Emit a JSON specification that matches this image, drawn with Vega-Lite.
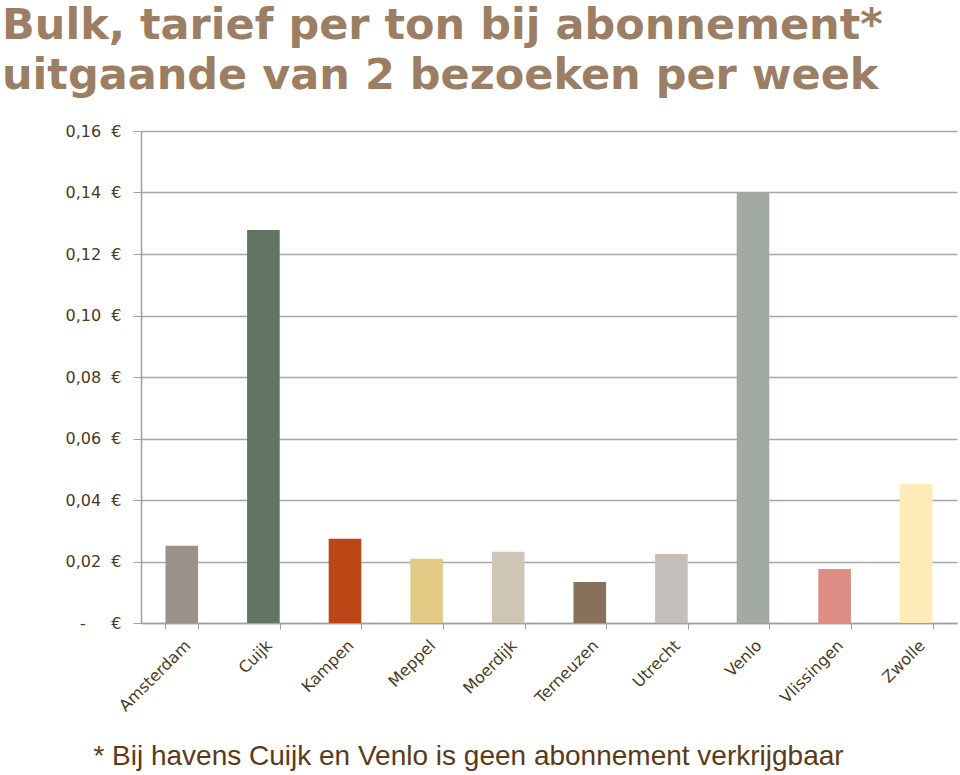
{
  "$schema": "https://vega.github.io/schema/vega-lite/v6.json",
  "width": 816,
  "height": 492,
  "autosize": {"type": "none"},
  "padding": {"left": 141, "top": 131, "right": 3, "bottom": 152},
  "background": "white",
  "title": {
    "text": ["Bulk, tarief per ton bij abonnement*", "uitgaande van 2 bezoeken per week"],
    "font": "DejaVu Sans",
    "fontWeight": "bold",
    "fontSize": 43,
    "color": "#9b7e63",
    "anchor": "start",
    "frame": "group",
    "dx": -139,
    "lineHeight": 50,
    "offset": 25
  },
  "data": {
    "values": [
      {"haven": "Amsterdam", "tarief": 0.0251},
      {"haven": "Cuijk", "tarief": 0.1278},
      {"haven": "Kampen", "tarief": 0.0274},
      {"haven": "Meppel", "tarief": 0.0209},
      {"haven": "Moerdijk", "tarief": 0.0232},
      {"haven": "Terneuzen", "tarief": 0.0133},
      {"haven": "Utrecht", "tarief": 0.0224},
      {"haven": "Venlo", "tarief": 0.1401},
      {"haven": "Vlissingen", "tarief": 0.0176},
      {"haven": "Zwolle", "tarief": 0.0452}
    ]
  },
  "mark": {"type": "bar"},
  "encoding": {
    "x": {
      "field": "haven",
      "type": "nominal",
      "sort": null,
      "scale": {"paddingInner": 0.6, "paddingOuter": 0.3},
      "axis": {
        "title": "* Bij havens Cuijk en Venlo is geen abonnement verkrijgbaar",
        "titleFont": "Liberation Sans",
        "titleFontSize": 28,
        "titleFontWeight": "normal",
        "titleColor": "#5c3a17",
        "titleX": 327,
        "titleY": 141,
        "titleAlign": "center",
        "titleBaseline": "alphabetic",
        "labelAngle": -45,
        "labelFont": "DejaVu Sans",
        "labelFontSize": 16,
        "labelColor": "#4b3a1e",
        "labelPadding": 8,
        "tickBand": "extent",
        "tickColor": "#a0a0a0",
        "tickSize": 6,
        "domainColor": "#a0a0a0",
        "domainWidth": 1.5,
        "grid": false
      }
    },
    "y": {
      "field": "tarief",
      "type": "quantitative",
      "scale": {"domain": [0, 0.16], "nice": false},
      "axis": {
        "title": null,
        "values": [0, 0.02, 0.04, 0.06, 0.08, 0.1, 0.12, 0.14, 0.16],
        "labelExpr": "datum.value == 0 ? '-\u00a0\u00a0\u00a0\u00a0\u00a0€' : replace(format(datum.value, '.2f'), '.', ',') + '\u00a0\u00a0€'",
        "labelFont": "DejaVu Sans",
        "labelFontSize": 16,
        "labelColor": "#4b3a1e",
        "labelPadding": 12,
        "tickColor": "#a0a0a0",
        "tickSize": 8,
        "domainColor": "#a0a0a0",
        "domainWidth": 1.5,
        "gridColor": "#a6a6a6",
        "gridWidth": 1.5
      }
    },
    "color": {
      "field": "haven",
      "type": "nominal",
      "sort": null,
      "legend": null,
      "scale": {
        "domain": ["Amsterdam", "Cuijk", "Kampen", "Meppel", "Moerdijk", "Terneuzen", "Utrecht", "Venlo", "Vlissingen", "Zwolle"],
        "range": ["#9b918b", "#627565", "#bc4716", "#e3cb86", "#cfc5b7", "#88715a", "#c5bfba", "#a1aba2", "#de8d84", "#fdebb8"]
      }
    }
  },
  "config": {"view": {"stroke": null}}
}
